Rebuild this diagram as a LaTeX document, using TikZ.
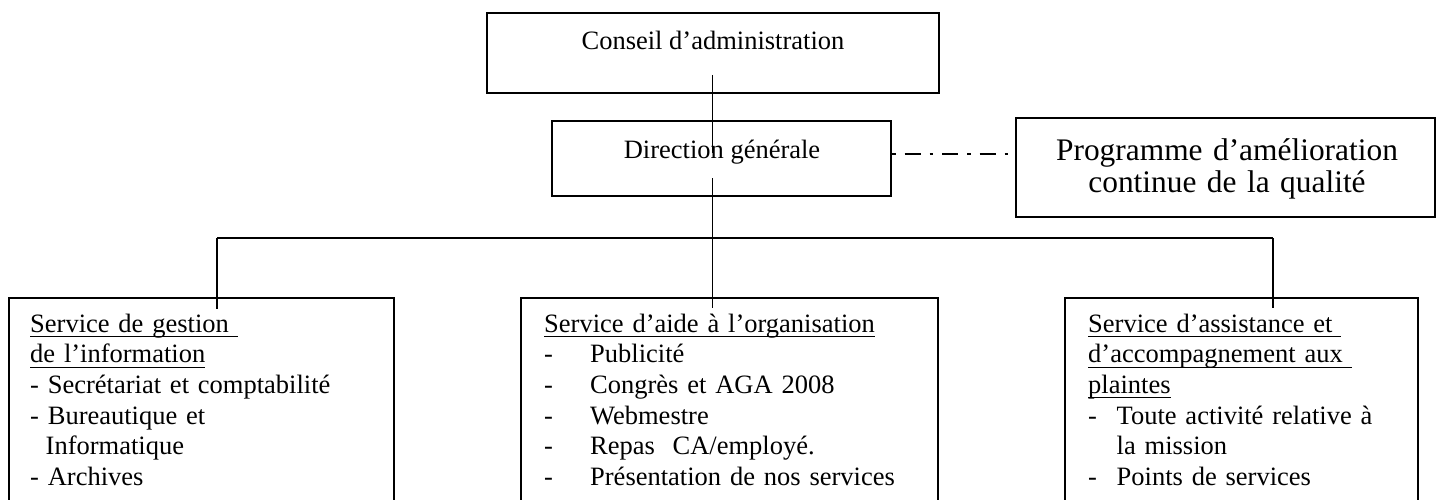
\documentclass[tikz,border=0pt]{standalone}
\usepackage{fontspec}
\setmainfont{Liberation Serif}
\newsavebox\ulbox
\newcommand\ulx[1]{\leavevmode\sbox\ulbox{#1}\rlap{\rule[-4.8pt]{\wd\ulbox}{1.1pt}}\usebox\ulbox}
\begin{document}
\begin{tikzpicture}[x=1pt,y=-1pt,
  boxnode/.style={draw,line width=2pt,inner sep=0pt,rectangle},
  txt/.style={inner sep=0pt,font=\fontsize{26.5pt}{30.6pt}\selectfont},
  bigtxt/.style={inner sep=0pt,font=\fontsize{31.4pt}{32pt}\selectfont},
  conn/.style={line width=1.3pt},
  dd/.style={line width=2pt,dash pattern=on 3.5pt off 9pt on 16pt off 9pt}]
\useasboundingbox (0,0) rectangle (1437,500);
\begin{scope}
\clip (0,0) rectangle (1437,500);
% boxes
\node[boxnode,minimum width=452pt,minimum height=80pt] (ca) at (713,53) {};
\node[boxnode,minimum width=339pt,minimum height=75pt] (dg) at (721.5,158.5) {};
\node[boxnode,minimum width=419pt,minimum height=99pt] (pa) at (1225.5,167.5) {};
\node[boxnode,minimum width=385pt,minimum height=222pt] (sg) at (201.5,409) {};
\node[boxnode,minimum width=417pt,minimum height=222pt] (so) at (729.5,409) {};
\node[boxnode,minimum width=353pt,minimum height=222pt] (sa) at (1241.5,409) {};
% texts
\node[txt,anchor=base] (cat) at (713,50) {Conseil d’administration};
\node[txt,anchor=base] (dgt) at (722,158) {Direction générale};
\node[bigtxt,anchor=north,text width=410pt,align=center] (pat) at (1227,137.6)
  {\strut Programme d’amélioration\\continue de la qualité};
\node[txt,anchor=north west,text width=360pt,align=left] (sgt) at (30,310.6)
  {\strut\ulx{Service de gestion\ }\\
   \ulx{de l’information}\\
   - Secrétariat et comptabilité\\
   - Bureautique et\\
   \hspace*{15.5pt}Informatique\\
   - Archives};
\node[txt,anchor=north west,text width=390pt,align=left] (sot) at (544,310.6)
  {\strut\ulx{Service d’aide à l’organisation}\\
   \makebox[46pt][l]{-}Publicité\\
   \makebox[46pt][l]{-}Congrès et AGA 2008\\
   \makebox[46pt][l]{-}Webmestre\\
   \makebox[46pt][l]{-}Repas\ \ CA/employé.\\
   \makebox[46pt][l]{-}Présentation de nos services};
\node[txt,anchor=north west,text width=325pt,align=left] (sat) at (1088,310.6)
  {\strut\ulx{Service d’assistance et\ }\\
   \ulx{d’accompagnement aux\ }\\
   \ulx{plaintes}\\
   \makebox[28.5pt][l]{-}Toute activité relative à\\
   \hspace*{28.5pt}la mission\\
   \makebox[28.5pt][l]{-}Points de services};
% connectors
\coordinate (c1) at (712.5,75);
\coordinate (c2) at (712.5,153);
\coordinate (c3) at (712.5,178);
\coordinate (c4) at (712.5,308);
\coordinate (hl) at (217,238);
\coordinate (hr) at (1273,238);
\coordinate (dl) at (217,309);
\coordinate (dr) at (1273,308);
\coordinate (dy) at (950,154);
\draw[conn] (c1) -- (c2);
\draw[conn] (c3) -- (c4);
\draw[conn] (hl) -- (hr);
\draw[conn] (hl) -- (dl);
\draw[conn] (hr) -- (dr);
\draw[dd] (dg.east |- dy) -- (pa.west |- dy);
\end{scope}
\end{tikzpicture}
\end{document}
